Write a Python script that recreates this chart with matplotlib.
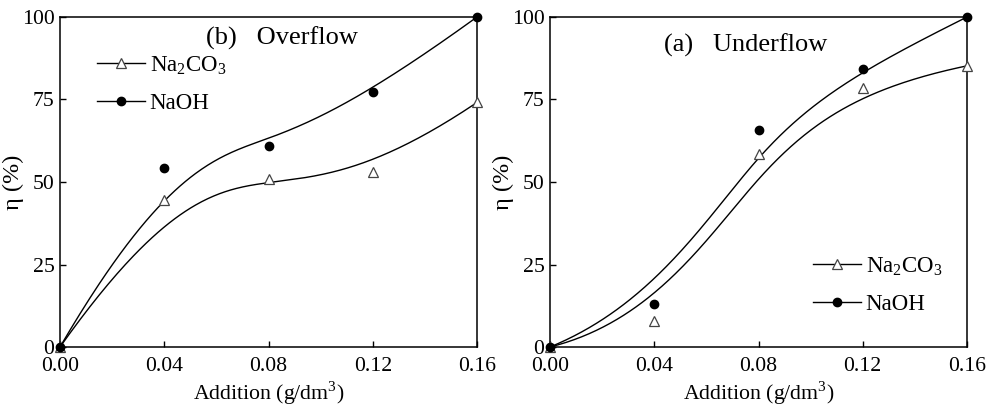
import numpy as np
import matplotlib
matplotlib.use("Agg")
import matplotlib.pyplot as plt

plt.rcParams['font.family'] = ['Liberation Serif', 'DejaVu Serif']
plt.rcParams['mathtext.fontset'] = 'custom'
plt.rcParams['mathtext.rm'] = 'Liberation Serif'

addition = [0.00, 0.04, 0.08, 0.12, 0.16]
over_na2co3 = [0.0, 44.5, 50.9, 52.9, 74.1]
over_naoh = [0.0, 54.1, 60.9, 77.2, 100.0]
under_na2co3 = [0.0, 7.9, 58.4, 78.6, 85.2]
under_naoh = [0.0, 12.9, 65.8, 84.2, 100.0]
xticks = [0.00, 0.04, 0.08, 0.12, 0.16]
yticks = [0, 25, 50, 75, 100]


def basis(i, k, t, knots):
    if k == 0:
        last = knots[i + 1] == knots[-1] and knots[i] < knots[i + 1]
        if last:
            return ((t >= knots[i]) & (t <= knots[i + 1])).astype(float)
        return ((t >= knots[i]) & (t < knots[i + 1])).astype(float)
    out = np.zeros_like(t)
    d1 = knots[i + k] - knots[i]
    if d1 > 0:
        out += (t - knots[i]) / d1 * basis(i, k - 1, t, knots)
    d2 = knots[i + k + 1] - knots[i + 1]
    if d2 > 0:
        out += (knots[i + k + 1] - t) / d2 * basis(i + 1, k - 1, t, knots)
    return out


def bspline(xc, yc, deg=3, n=300):
    m = len(xc)
    inner = list(np.linspace(0, 1, m - deg + 1)[1:-1])
    knots = [0.0] * (deg + 1) + inner + [1.0] * (deg + 1)
    t = np.linspace(0, 1, n)
    B = np.array([basis(i, deg, t, knots) for i in range(m)])
    return B.T @ np.asarray(xc), B.T @ np.asarray(yc)


fig = plt.figure(figsize=(9.89, 4.08), dpi=100)
W, H = 989, 408
ax1 = fig.add_axes([60 / W, 1 - 347 / H, 417 / W, 330 / H])
ax2 = fig.add_axes([550 / W, 1 - 347 / H, 417 / W, 330 / H])

FS = 15.7


def panel(ax, s1, s2, title, tx, ty, leg_anchor):
    for s in (s1, s2):
        bx, by = bspline(addition, s)
        ax.plot(bx, by, color='black', lw=1.0, zorder=2)
    ax.plot(addition, s1, linestyle='none', marker='^', mfc='white', mec='#444444',
            ms=6.5, mew=0.9, zorder=3, clip_on=False)
    ax.plot(addition, s2, linestyle='none', marker='o', mfc='black', mec='black',
            ms=6, zorder=3, clip_on=False)
    h1, = ax.plot([], [], color='black', lw=1.0, marker='^', mfc='white',
                  mec='#444444', ms=6.5, mew=0.9)
    h2, = ax.plot([], [], color='black', lw=1.0, marker='o', mfc='black',
                  mec='black', ms=6)
    ax.legend([h1, h2], ['Na$_2$CO$_3$', 'NaOH'], loc='upper left',
              bbox_to_anchor=leg_anchor, frameon=False, fontsize=16.5,
              handlelength=2.1, handletextpad=0.2, labelspacing=0.72,
              borderpad=0, borderaxespad=0)
    ax.text(tx, ty, title, fontsize=19, ha='center', va='center')
    ax.set_xlim(0, 0.16)
    ax.set_ylim(0, 100)
    ax.set_xticks(xticks)
    ax.set_xticklabels(['%.2f' % v for v in xticks])
    ax.set_yticks(yticks)
    ax.tick_params(axis='both', direction='in', labelsize=FS, length=4, width=1)
    ax.tick_params(axis='x', pad=7)
    ax.tick_params(axis='y', pad=4)
    ax.set_xlabel('Addition (g/dm$^3$)', fontsize=FS)
    ax.set_ylabel('η (%)', fontsize=17.5)
    ax.yaxis.set_label_coords(-0.086, 0.5)
    ax.xaxis.set_label_coords(0.5, -0.097)
    for sp in ax.spines.values():
        sp.set_linewidth(1.1)


panel(ax1, over_na2co3, over_naoh, '(b)   Overflow', 0.085, 93.5,
      ((97 - 60) / 417, (347 - 54) / 330))
panel(ax2, under_na2co3, under_naoh, '(a)   Underflow', 0.0752, 91.5,
      ((813 - 550) / 417, (347 - 255) / 330))

fig.savefig('out.png', dpi=100)
